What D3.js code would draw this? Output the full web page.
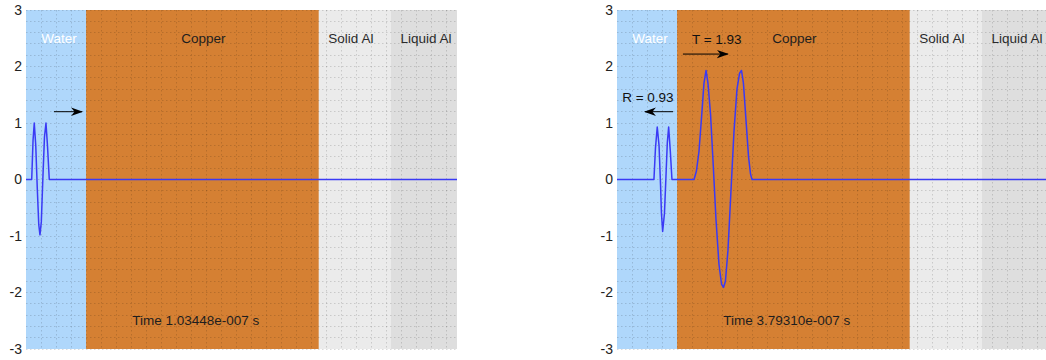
<!DOCTYPE html>
<html>
<head>
<meta charset="utf-8">
<script src="https://cdn.jsdelivr.net/npm/d3@7"></script>
<style>
  html, body { margin: 0; padding: 0; background: #fff; }
  svg { display: block; font-family: "Liberation Sans", Arial, sans-serif; }
</style>
</head>
<body>
<svg id="chart" width="1046" height="360"></svg>
<script>
// Layers of the target, left to right (position in the slab, arbitrary length units)
const materials = ["Water", "Copper", "Solid Al", "Liquid Al"];
const materialEdges = [0, 4, 19.5, 24.3, 28.7];

// Y-axis tick values
const yTicks = [-3, -2, -1, 0, 1, 2, 3];

// Snapshot times (s)
const snapshotTimes = ["1.03448e-007", "3.79310e-007"];

// Snapshot 1: incident pulse travelling in water
const pulse1X = [0, 0.38, 0.47, 0.55, 0.65, 0.75, 0.85, 0.93, 1.02, 1.12, 1.23, 1.33, 1.43, 1.55, 28.7];
const pulse1Y = [0, 0, 0.7, 1.0, 0.6, -0.15, -0.8, -0.98, -0.75, 0.0, 0.75, 1.0, 0.6, 0, 0];

// Snapshot 2: reflected pulse in water and transmitted pulse in copper
const pulse2X = [0, 2.46, 2.56, 2.68, 2.80, 2.90, 2.96, 3.04, 3.16, 3.26, 3.35, 3.44, 3.55, 3.66,
                 5.13, 5.29, 5.46, 5.63, 5.79, 5.93, 6.06, 6.23, 6.39, 6.59, 6.79, 6.96, 7.09, 7.22,
                 7.39, 7.59, 7.79, 7.99, 8.16, 8.29, 8.42, 8.59, 8.76, 8.89, 8.99, 28.7];
const pulse2Y = [0, 0, 0.55, 0.93, 0.6, -0.1, -0.6, -0.92, -0.6, 0.05, 0.65, 0.93, 0.5, 0,
                 0, 0.15, 0.5, 1.1, 1.7, 1.93, 1.7, 1.15, 0.35, -0.7, -1.5, -1.85, -1.91, -1.8,
                 -1.25, -0.2, 0.85, 1.6, 1.88, 1.93, 1.7, 1.05, 0.4, 0.1, 0, 0];

// Transmission / reflection coefficients shown on the second snapshot
const transmission = 1.93;
const reflection = 0.93;

// ---- styling ----
const layerFill = ["#afd7fb", "#d58033", "#ebebeb", "#dedede"];
const layerText = ["#ffffff", "#1e1e1e", "#2a2a2a", "#2a2a2a"];
const panelLeft = [26, 617];
const panelTop = 10;
const panelW = 431, panelH = 339;

const svg = d3.select("#chart");

const defs = svg.append("defs");
defs.append("marker")
  .attr("id", "head")
  .attr("viewBox", "0 0 12 10")
  .attr("refX", 11).attr("refY", 5)
  .attr("markerWidth", 12).attr("markerHeight", 10)
  .attr("markerUnits", "userSpaceOnUse")
  .attr("orient", "auto")
  .append("path")
  .attr("d", "M0,0.8 L12,5 L0,9.2 L3.5,5 Z")
  .attr("fill", "#000");

const x = d3.scaleLinear().domain([materialEdges[0], materialEdges[materialEdges.length - 1]]).range([0, panelW]);
const y = d3.scaleLinear().domain([-3, 3]).range([panelH, 0]);

const layers = materials.map((name, i) => ({ name, x0: materialEdges[i], x1: materialEdges[i + 1], i }));

const series = [
  pulse1X.map((v, i) => [v, pulse1Y[i]]),
  pulse2X.map((v, i) => [v, pulse2Y[i]])
];

function drawPanel(k) {
  const g = svg.append("g").attr("transform", `translate(${panelLeft[k]},${panelTop})`);

  // material bands
  g.selectAll("rect.layer").data(layers).join("rect")
    .attr("class", "layer")
    .attr("x", d => x(d.x0))
    .attr("width", d => x(d.x1) - x(d.x0))
    .attr("y", 0).attr("height", panelH)
    .attr("fill", d => layerFill[d.i]);

  // dotted grid
  const grid = g.append("g")
    .attr("stroke", "#000")
    .attr("stroke-opacity", 0.14)
    .attr("stroke-width", 1)
    .attr("stroke-dasharray", "1.5,2.5");
  grid.selectAll("line.h").data(d3.range(-30, 31, 2).map(v => v / 10)).join("line")
    .attr("class", "h")
    .attr("x1", 0).attr("x2", panelW)
    .attr("y1", d => Math.floor(y(d)) + 0.5).attr("y2", d => Math.floor(y(d)) + 0.5);
  grid.selectAll("line.v").data(d3.range(1, 29)).join("line")
    .attr("class", "v")
    .attr("y1", 0).attr("y2", panelH)
    .attr("x1", d => Math.round(x(d)) + 0.5).attr("x2", d => Math.round(x(d)) + 0.5);

  // layer names
  g.selectAll("text.layer").data(layers).join("text")
    .attr("class", "layer")
    .attr("x", d => x((d.x0 + d.x1) / 2) + (d.i === 0 ? 3 : d.i === 2 ? -4 : d.i === 3 ? 2 : 1))
    .attr("y", y(2.5))
    .attr("dy", "0.35em")
    .attr("text-anchor", "middle")
    .attr("font-size", 13.5)
    .attr("fill", d => layerText[d.i])
    .text(d => d.name);

  // y axis labels (plain hyphen for negatives)
  const axis = g.append("g")
    .call(d3.axisLeft(y).tickValues(yTicks).tickSize(0).tickPadding(4).tickFormat(d => String(d)));
  axis.select(".domain").remove();
  axis.selectAll(".tick line").remove();
  axis.selectAll("text")
    .attr("font-size", 14)
    .attr("font-family", "Liberation Sans, Arial, sans-serif")
    .attr("fill", "#222");

  // wave
  g.append("path")
    .datum(series[k])
    .attr("fill", "none")
    .attr("stroke", "#3a3af5")
    .attr("stroke-width", 1.5)
    .attr("stroke-linejoin", "round")
    .attr("d", d3.line().x(d => x(d[0])).y(d => y(d[1])));

  // elapsed time
  g.append("text")
    .attr("x", x(11.3)).attr("y", y(-2.5))
    .attr("dy", "0.35em")
    .attr("text-anchor", "middle")
    .attr("font-size", 13.5)
    .attr("fill", "#1e1e1e")
    .text(`Time ${snapshotTimes[k]} s`);

  return g;
}

const g1 = drawPanel(0);
const g2 = drawPanel(1);

function arrow(g, xa, xb, yv) {
  g.append("line")
    .attr("x1", x(xa)).attr("x2", x(xb))
    .attr("y1", y(yv)).attr("y2", y(yv))
    .attr("stroke", "#000").attr("stroke-width", 1)
    .attr("marker-end", "url(#head)");
}

// incident direction
arrow(g1, 1.86, 3.73, 1.2);

// transmitted and reflected annotations
arrow(g2, 4.39, 7.38, 2.22);
g2.append("text")
  .attr("x", x(6.64)).attr("y", y(2.49)).attr("dy", "0.35em")
  .attr("text-anchor", "middle").attr("font-size", 13.5).attr("fill", "#111")
  .text(`T = ${transmission}`);
arrow(g2, 3.73, 1.86, 1.2);
g2.append("text")
  .attr("x", x(2.06)).attr("y", y(1.46)).attr("dy", "0.35em")
  .attr("text-anchor", "middle").attr("font-size", 13.5).attr("fill", "#111")
  .text(`R = ${reflection}`);
</script>
</body>
</html>
